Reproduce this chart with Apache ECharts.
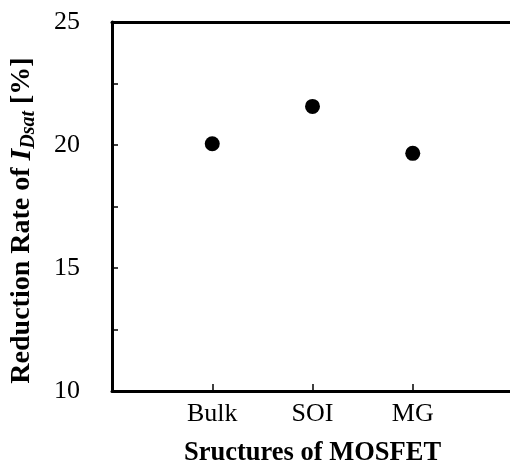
<!DOCTYPE html>
<html lang="en">
  <head>
    <meta charset="UTF-8" />
    <title>Reduction Rate of IDsat</title>
    <style>
      body {
        margin: 0;
      }
      #main {
        width: 510px;
        height: 464px;
        background-color: #fff;
      }
    </style>
  </head>
  <body>
    <div id="main"></div>
    <script src="https://cdn.jsdelivr.net/npm/echarts@6/dist/echarts.min.js"></script>

    <script>
      // 数据
      const structures = ["Bulk", "SOI", "MG"];
      const reductionRate = [20.05, 21.57, 19.66];
      const yTicks = [10, 15, 20, 25];

      const font = "'Liberation Serif', 'Times New Roman', serif";
      const myChart = echarts.init(document.getElementById("main"));

      const points = structures.map((s, i) => [i + 1, reductionRate[i]]);

      const option = {
        animation: false,
        grid: { left: 112, top: 22, width: 401, height: 369, outerBoundsMode: "none", containLabel: false },
        xAxis: [
          {
            type: "value",
            min: 0,
            max: 4,
            interval: 1,
            splitLine: { show: false },
            axisLine: { lineStyle: { color: "#000", width: 3 } },
            axisTick: { inside: true, length: 7, lineStyle: { color: "#000", width: 1.5 } },
            axisLabel: {
              margin: 10,
              color: "#000",
              fontFamily: font,
              fontSize: 26,
              formatter: (v) => structures[v - 1] || "",
            },
            name: "Sructures of MOSFET",
            nameLocation: "middle",
            nameGap: 49,
            nameTextStyle: { color: "#000", fontFamily: font, fontSize: 26.5, fontWeight: "bold" },
          },
          {
            type: "value",
            position: "top",
            min: 0,
            max: 4,
            splitLine: { show: false },
            axisLine: { lineStyle: { color: "#000", width: 3 } },
            axisTick: { show: false },
            axisLabel: { show: false },
          },
        ],
        yAxis: {
          type: "value",
          min: yTicks[0],
          max: yTicks[yTicks.length - 1],
          interval: 5,
          splitLine: { show: false },
          axisLine: { show: true, lineStyle: { color: "#000", width: 3 } },
          axisTick: { inside: true, length: 6, lineStyle: { color: "#000", width: 1.5 } },
          minorTick: { show: true, splitNumber: 2, length: 6, lineStyle: { color: "#000", width: 1.5 } },
          axisLabel: { margin: 32, color: "#000", fontFamily: font, fontSize: 26 },
          name: "{b|Reduction Rate of }{i|I}{s|Dsat}{b| [%]}",
          nameLocation: "middle",
          nameGap: 73,
          nameTextStyle: {
            color: "#000",
            fontFamily: font,
            fontSize: 28,
            fontWeight: "bold",
            padding: [0, 28, 0, 0],
            rich: {
              b: { fontFamily: font, fontSize: 28, fontWeight: "bold", color: "#000" },
              i: { fontFamily: font, fontSize: 30, fontWeight: "bold", fontStyle: "italic", color: "#000" },
              s: {
                fontFamily: font,
                fontSize: 20,
                fontWeight: "bold",
                fontStyle: "italic",
                color: "#000",
                verticalAlign: "bottom",
                padding: [14, 0, 0, 0],
              },
            },
          },
        },
        series: [
          {
            type: "scatter",
            data: points,
            symbol: "circle",
            symbolSize: 15,
            itemStyle: { color: "#000", opacity: 1 },
          },
        ],
      };
      myChart.setOption(option);
    </script>
  </body>
</html>
